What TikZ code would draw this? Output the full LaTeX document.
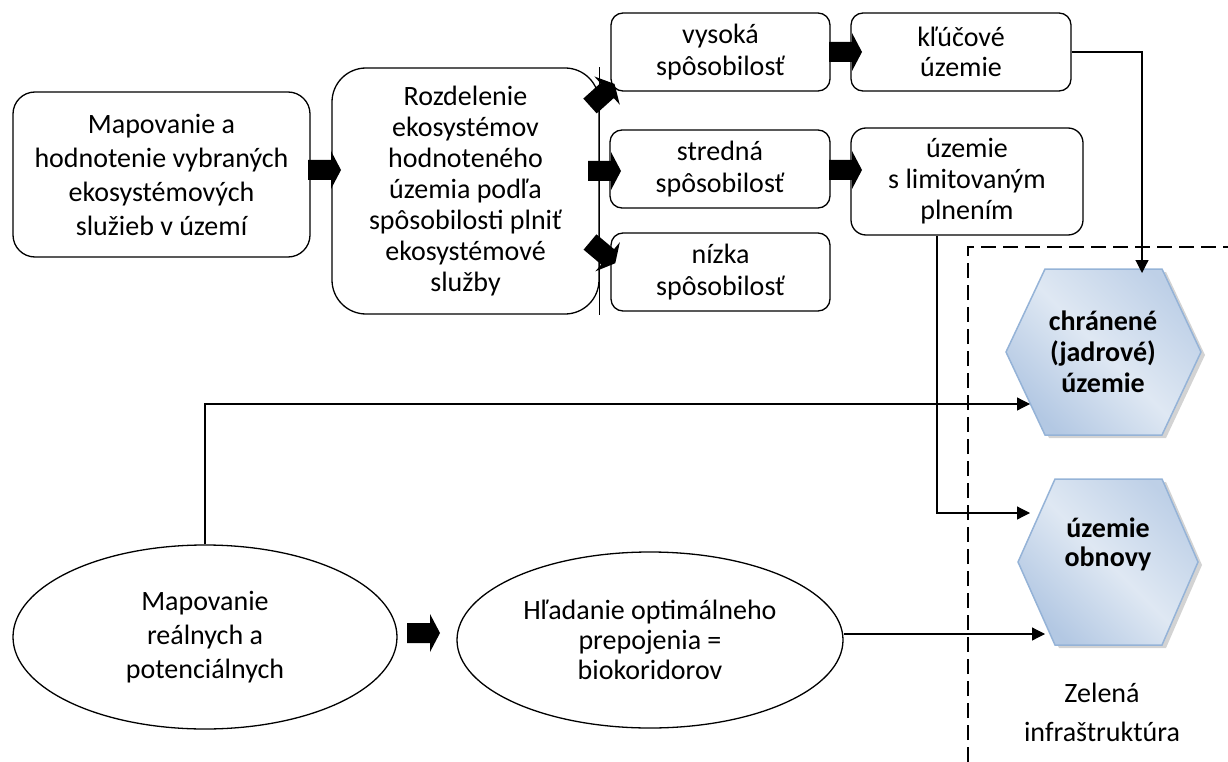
\documentclass[tikz,border=0pt]{standalone}
\usepackage{fontspec}
\setmainfont{Carlito}
\usetikzlibrary{arrows.meta,shapes.geometric}
\definecolor{hexedge}{HTML}{95B3D7}
\definecolor{hexdark}{HTML}{B3C8E3}
\definecolor{hexlight}{HTML}{DFE8F3}
\definecolor{hexshadow}{HTML}{A8A8A8}
\begin{document}
\begin{tikzpicture}[x=1pt,y=-1pt,
  every node/.style={align=center, inner sep=0pt, text=black},
  txt/.style={font=\fontsize{28}{#1}\selectfont},
  txt/.default=32,
  rbox/.style={draw, line width=1.3pt, rounded corners=12pt},
  ell/.style={draw, ellipse, line width=1.3pt},
  conn/.style={line width=1.2pt, -{Triangle[length=13pt,width=13pt]}},
  frame/.style={line width=1.2pt, dash pattern=on 15pt off 7pt},
  hexfill/.style={draw=hexedge, line width=1.5pt, left color=hexdark, right color=hexdark!85, middle color=hexlight, shading angle=135},
  hexshade/.style={fill=hexshadow, opacity=0.5},
  blockarrow/.pic={\fill[black] (0,-10) -- (23,-10) -- (23,-19) -- (33,0) -- (23,19) -- (23,10) -- (0,10) -- cycle;}
]
\useasboundingbox (0,0) rectangle (1228,762);

% top row
\node[rbox, rounded corners=22pt, minimum width=297pt, minimum height=165pt, txt=34] (b1) at (161.5,174.5)
  {Mapovanie a\\hodnotenie vybraných\\ekosystémových\\služieb v území};
\node[rbox, rounded corners=34pt, minimum width=267pt, minimum height=246pt, txt=31] (b2) at (465.5,191)
  {Rozdelenie\\ekosystémov\\hodnoteného\\územia podľa\\spôsobilosti plniť\\ekosystémové\\služby};
\draw[line width=1.3pt] (b2.north east) -- (b2.south east);

\node[rbox, minimum width=219pt, minimum height=78pt, txt] (vys) at (720.5,52) {vysoká\\spôsobilosť};
\node[rbox, minimum width=220pt, minimum height=78pt, txt] (str) at (720,169) {stredná\\spôsobilosť};
\node[rbox, minimum width=219pt, minimum height=78pt, txt] (niz) at (720.5,272) {nízka\\spôsobilosť};
\node[rbox, minimum width=220pt, minimum height=78pt, txt=30] (klu) at (961,52) {kľúčové\\územie};
\node[rbox, rounded corners=15pt, minimum width=232pt, minimum height=107pt, txt=31] (lim) at (967,181.5) {územie\\s limitovaným\\plnením};

% block arrows
\pic at (308,170) {blockarrow};
\pic at (588,171) {blockarrow};
\pic[rotate=42] at (590,106) {blockarrow};
\pic[rotate=-40] at (590,242) {blockarrow};
\pic at (829,52) {blockarrow};
\pic at (829,170) {blockarrow};
\pic at (407,633) {blockarrow};

% hexagons
\fill[hexshade] (1010,355) -- (1049,272) -- (1166,272) -- (1205,355) -- (1166,438) -- (1049,438) -- cycle;
\shade[hexfill] (1006,352) -- (1045,269) -- (1162,269) -- (1201,352) -- (1162,435) -- (1045,435) -- cycle;
\node[font=\fontsize{28}{31}\selectfont\bfseries] (h1) at (1103,352) {chránené\\(jadrové)\\územie};

\fill[hexshade] (1022,565) -- (1059,482) -- (1166,482) -- (1202,565) -- (1166,648) -- (1059,648) -- cycle;
\shade[hexfill] (1018,562) -- (1055,479) -- (1162,479) -- (1198,562) -- (1162,645) -- (1055,645) -- cycle;
\node[font=\fontsize{28}{29}\selectfont\bfseries] (h2) at (1108,544) {územie\\obnovy};

\coordinate (h1top) at (1142,273);
\coordinate (h1left) at (1030,404);
\coordinate (h2a) at (1030,513);
\coordinate (h2b) at (1045,634);

\node[txt=39] (zi) at (1102,712) {Zelená\\infraštruktúra};

% frame
\coordinate (fb) at (968,762);
\coordinate (fc) at (968,247);
\coordinate (fr) at (1228,247);
\draw[frame] (fb) -- (fc) -- (fr);

% ellipses
\node[ell, minimum width=384pt, minimum height=184pt, txt=34] (e1) at (205,637) {Mapovanie\\reálnych a\\potenciálnych};
\node[ell, minimum width=386pt, minimum height=176pt, txt=30] (e2) at (650,640) {Hľadanie optimálneho\\prepojenia =\\biokoridorov};

% connectors
\draw[conn] (klu.east) -| (h1top);
\draw[conn] ([xshift=-30pt]lim.south) |- (h2a);
\draw[conn] (e1.north) |- (h1left);
\draw[conn] (e2.east |- h2b) -- (h2b);
\end{tikzpicture}
\end{document}
